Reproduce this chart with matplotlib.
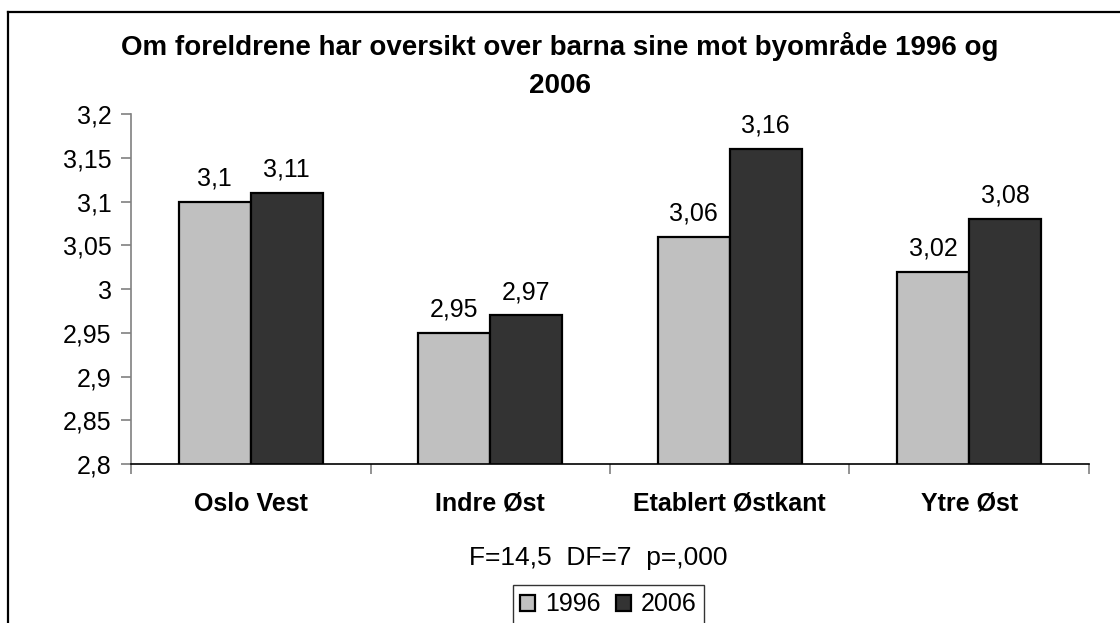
import numpy as np
import matplotlib.pyplot as plt
from matplotlib.lines import Line2D

plt.rcParams['font.family'] = ['Liberation Sans', 'DejaVu Sans']

# data
categories = ['Oslo Vest', 'Indre Øst', 'Etablert Østkant', 'Ytre Øst']
years = ['1996', '2006']
values_1996 = [3.10, 2.95, 3.06, 3.02]
values_2006 = [3.11, 2.97, 3.16, 3.08]
labels_1996 = ['3,1', '2,95', '3,06', '3,02']
labels_2006 = ['3,11', '2,97', '3,16', '3,08']
y_ticks = [2.8, 2.85, 2.9, 2.95, 3.0, 3.05, 3.1, 3.15, 3.2]
y_tick_labels = ['2,8', '2,85', '2,9', '2,95', '3', '3,05', '3,1', '3,15', '3,2']

colours = ['#c0c0c0', '#333333']
fs = 18

fig = plt.figure(figsize=(11.2, 6.23), dpi=100)
ax = fig.add_axes([0.117, 0.2552, 0.8553, 0.5618])

x = np.arange(len(categories))
w = 0.3
b1 = ax.bar(x - w / 2, values_1996, width=w, color=colours[0], edgecolor='black',
            linewidth=1.6, label=years[0])
b2 = ax.bar(x + w / 2, values_2006, width=w, color=colours[1], edgecolor='black',
            linewidth=1.6, label=years[1])

# value labels above the bars
for i in range(len(x)):
    ax.annotate(labels_1996[i], (x[i] - w / 2, values_1996[i]), xytext=(0, 8),
                textcoords='offset points', ha='center', va='bottom', fontsize=fs)
    ax.annotate(labels_2006[i], (x[i] + w / 2, values_2006[i]), xytext=(0, 8),
                textcoords='offset points', ha='center', va='bottom', fontsize=fs)

ax.set_ylim(2.8, 3.2)
ax.set_xlim(-0.5, len(categories) - 0.5)
ax.set_yticks(y_ticks)
ax.set_yticklabels(y_tick_labels, fontsize=fs)

# category labels in the middle, ticks at the boundaries
ax.set_xticks(x)
ax.set_xticklabels(categories, fontsize=fs, fontweight='bold')
ax.tick_params(axis='x', which='major', length=0, pad=20)
ax.set_xticks(np.arange(len(categories) + 1) - 0.5, minor=True)
ax.tick_params(axis='x', which='minor', length=7, color='#808080', width=1.2, direction='out')
ax.tick_params(axis='y', length=7, color='#808080', width=1.2, direction='out', pad=7)

ax.spines['top'].set_visible(False)
ax.spines['right'].set_visible(False)
ax.spines['left'].set_color('#808080')
ax.spines['left'].set_linewidth(1.2)
ax.spines['bottom'].set_color('black')
ax.spines['bottom'].set_linewidth(1.2)

fig.text(0.5, 0.895, 'Om foreldrene har oversikt over barna sine mot byområde 1996 og\n2006',
         ha='center', va='center', fontsize=20, fontweight='bold', linespacing=1.6)

fig.text(0.534, 0.105, 'F=14,5  DF=7  p=,000', ha='center', va='center', fontsize=19)

leg = fig.legend(handles=[b1, b2], loc='upper center', bbox_to_anchor=(0.543, 0.061), ncol=2,
                 fontsize=fs, frameon=True, fancybox=False, edgecolor='black',
                 handlelength=0.6, handleheight=0.6, handletextpad=0.4, columnspacing=0.6,
                 borderpad=0.3, borderaxespad=0)
leg.get_frame().set_linewidth(1.0)

# outer border, left and top only visible
fig.add_artist(Line2D([0.0071, 0.0071], [0, 0.9807], transform=fig.transFigure,
                      color='black', linewidth=1.6))
fig.add_artist(Line2D([0.0071, 1.0], [0.9807, 0.9807], transform=fig.transFigure,
                      color='black', linewidth=1.6))

fig.savefig('out.png', dpi=100)
